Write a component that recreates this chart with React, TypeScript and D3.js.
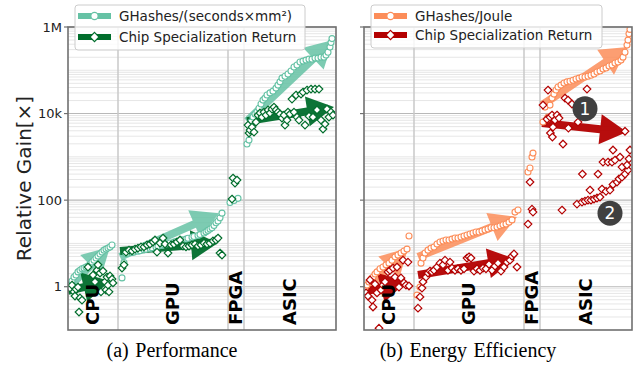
import React from 'react';
import * as d3 from 'd3';

// ---------- data ----------
const categories = ['CPU', 'GPU', 'FPGA', 'ASIC'];
// design-index boundaries between categories (x axis is design index)
const categoryBounds = [0, 25, 80, 88, 134];
const yTickValues = [1, 100, 1e4, 1e6];
const yTickLabels = ['1', '100', '10k', '1M'];

// (a) Performance: GHashes/(seconds x mm^2)
const perfThroughput: [number, number][] = [
  [1, 1.09], [2, 1.36], [3, 1.67], [4, 1.86], [5, 2.2], [6, 2.4], [7, 2.6], [8, 2.7], [9, 2.85], [10, 3.0],
  [11, 3.3], [12, 3.7], [13, 4.1], [14, 4.6], [15, 5.1], [16, 5.7], [17, 6.3], [18, 7.0], [19, 7.4], [20, 7.8],
  [21, 8.3], [22, 9.2],
  [27, 1.6], [28, 3.6], [29, 5.8], [30, 6.0], [32, 6.2], [33, 6.3], [35, 6.6], [36, 6.8], [38, 7.1], [39, 7.3],
  [41, 7.6], [42, 7.9], [44, 8.3], [45, 8.6], [47, 9.0], [48, 9.3], [50, 9.8], [51, 10.2], [53, 10.7], [54, 11.1],
  [56, 11.6], [57, 12.1], [59, 12.6], [60, 13.2], [62, 13.9], [63, 14.5], [65, 15.3], [66, 16], [68, 17.4],
  [69, 18.5], [70, 20], [71, 21.5], [72, 23], [73, 26], [74, 30], [75, 33], [76, 39], [77, 50],
  [81, 88], [83, 98], [85, 110],
  [89.5, 1980], [90.5, 2440], [91.5, 6370], [92.5, 8300], [93.5, 9730], [94.5, 10800], [95.5, 13300],
  [96.5, 16600], [97.5, 20500], [98.5, 22800], [99.5, 26800], [101, 30000], [102.5, 33000], [104, 38800],
  [105, 45500], [106, 54000], [107, 66000], [108.5, 73000], [110, 82000], [111.5, 96000], [113, 119000],
  [114.5, 132000], [116, 155000], [117.5, 163000], [119, 172000], [120.5, 181000], [122, 181000],
  [123.5, 191000], [125, 191000], [126.5, 201000], [128, 201000], [129, 224000], [130, 260000],
  [131, 343000], [131.5, 440000], [132, 540000],
];

// (a) Performance: Chip Specialization Return
const perfCSR: [number, number][] = [
  [1, 0.93], [2, 1.09], [3, 0.76], [3.5, 0.61], [4, 0.88], [5, 0.98], [5.5, 0.26], [6, 0.55], [7, 0.49],
  [10, 2.85], [12.5, 1.86], [13.5, 1.29], [14.5, 2.4], [15, 3.2], [16, 2.07], [16.5, 0.76], [17.5, 2.3],
  [18.5, 1.29], [19, 0.84], [19.5, 1.67], [20, 1.09], [20.5, 0.76], [21, 1.77], [22, 1.5], [22.5, 1.22],
  [27, 2.7], [28, 3.2], [29, 6.3], [30.5, 7.0], [32, 6.7], [33.5, 7.4], [35, 7.8], [36.5, 8.3], [38, 8.3],
  [39.5, 9.2], [41, 9.7], [42.5, 10.8], [43.5, 12], [44.5, 6.3], [46, 10.2], [47.5, 13.3], [48.5, 9.7],
  [50, 6.0], [51.5, 9.2], [53, 9.7], [54.5, 10.8], [56, 12], [57.5, 8.7], [59, 8.3], [60.5, 8.7], [62, 9.2],
  [63.5, 9.7], [65, 8.7], [66.5, 9.2], [68, 10.2], [69.5, 9.7], [71, 10.2], [72.5, 11.4], [74, 12], [75, 13.3],
  [76, 6.0], [77, 5.4],
  [82, 106], [82.5, 324], [83.5, 248], [84.5, 291],
  [90, 5420], [90.5, 3550], [91, 4160], [92, 4880], [93, 3740], [94, 6370], [95, 9230], [96, 10300],
  [97, 8300], [98, 10800], [99, 9230], [100, 12100], [101, 10300], [102, 12700], [103, 14100], [104, 12100],
  [105, 10800], [106, 9730], [107, 7870], [108, 9230], [108.5, 5420], [109.5, 7080], [110, 10800],
  [111, 9730], [112, 21600], [113, 10800], [114, 26800], [114.5, 8300], [115.5, 7080], [116.5, 28200],
  [117.5, 31400], [118.5, 5420], [119.5, 34900], [120.5, 8700], [121.5, 36800], [122.5, 8300],
  [123.5, 36800], [124.5, 12100], [125.5, 36800], [126.5, 7080], [127.5, 4390], [128.5, 5730],
  [129.5, 12700], [130.5, 8300], [131.5, 10800], [132.5, 9230],
];

// (b) Energy efficiency: GHashes/Joule
const energyEff: [number, number][] = [
  [0.5, 0.93], [1.5, 1.09], [2.5, 1.29], [3.5, 1.5], [4.5, 1.67], [5.5, 1.96], [6.5, 2.2], [8, 2.6],
  [9.5, 2.85], [11, 3.2], [12.5, 3.5], [14, 4.1], [15.5, 4.9], [17, 5.4], [18.5, 6.0], [20, 6.7],
  [21.5, 7.4], [22.5, 14.8],
  [26.5, 0.64], [28, 0.98], [28.5, 3.5], [29.5, 4.6], [30.5, 6.0], [32, 7.0], [33.5, 7.8], [35, 8.3],
  [36.5, 9.7], [38, 10.8], [39.5, 11.4], [41, 12], [42.5, 12], [44, 12.6], [45.5, 13.3], [47, 13.3],
  [48.5, 14.1], [50, 14.8], [51.5, 15.6], [53, 16.5], [54.5, 17.4], [56, 18.3], [57.5, 18.3], [59, 19.4],
  [60.5, 20.4], [62, 21.5], [63.5, 23], [65, 23], [66.5, 24], [68, 25.5], [69.5, 27], [71, 28], [72.5, 31],
  [74, 35], [75.5, 53], [77, 59],
  [82, 446], [83, 551], [84, 990], [84.5, 1220],
  [89.5, 6370], [90.5, 14100], [91.5, 7460], [92, 8300], [93, 15700], [94, 22800], [95, 28200], [96, 34900],
  [97, 41000], [98.5, 45500], [100, 51000], [101.5, 54000], [103, 56000], [104.5, 59000], [106, 63000],
  [107.5, 66000], [109, 70000], [110.5, 70000], [112, 73000], [113.5, 77000], [115, 82000], [116.5, 91000],
  [118, 96000], [119.5, 107000], [121, 113000], [122.5, 126000], [124, 132000], [125.5, 147000],
  [127, 155000], [128.5, 172000], [129.5, 201000], [130.5, 260000], [131.5, 382000], [132, 498000],
  [132.5, 700000], [133, 880000],
];

// (b) Energy efficiency: Chip Specialization Return
const energyCSR: [number, number][] = [
  [1, 0.72], [2, 0.61], [3, 1.43], [4, 0.49], [4.5, 0.34], [5.5, 1.15], [6.5, 0.72], [7.5, 0.11],
  [8.5, 0.84], [9.5, 1.09], [10.5, 1.29], [12, 2.2], [13, 2.4], [14.5, 2.7], [15.5, 1.67], [16.5, 2.85],
  [17.5, 0.98], [18.5, 1.59], [19.5, 4.1], [20, 1.22], [21, 1.09], [22, 3.7], [22.5, 1.04],
  [27, 0.32], [28, 0.58], [29, 0.93], [29.5, 1.29], [31, 1.67], [32, 2.07], [33, 2.3], [34, 2.2], [35, 2.4],
  [36.5, 2.85], [38, 3.5], [39.5, 3.2], [40.5, 4.1], [42, 2.4], [43, 3.7], [44, 2.7], [45.5, 2.4], [47, 2.6],
  [48.5, 2.4], [50, 2.6], [51.5, 4.6], [52.5, 4.9], [53.5, 4.6], [55, 2.3], [56.5, 2.6], [58, 2.4],
  [59.5, 2.7], [61, 2.6], [62.5, 3.3], [64, 2.4], [65.5, 3.0], [67, 3.5], [68.5, 2.3], [70, 2.85],
  [71.5, 3.7], [73, 4.1], [74, 5.1], [75, 5.7], [76.5, 2.85],
  [82, 28], [83, 262], [84, 62], [84.5, 53],
  [89.5, 15700], [92, 34900], [91.5, 7460], [93, 8300], [94, 9230], [94.5, 4880], [93.2, 3550], [94.2, 2870],
  [95.5, 7080], [96.5, 9230], [97.5, 7870], [99.5, 1980], [100.5, 22800], [102, 20500], [102.2, 4620],
  [104, 16600], [107, 6370], [111.5, 36800], [130.5, 3900],
  [99, 59], [106.5, 81], [109, 90], [110.5, 95], [112, 100], [113.5, 100], [115, 106], [116.5, 112],
  [118, 118], [119, 180], [113, 171], [121, 160], [123, 171], [124.5, 230], [126.5, 262], [127.5, 310],
  [129, 340], [130.5, 401], [132, 495], [109.2, 401], [117, 401], [119.5, 758], [122, 758], [124, 758],
  [124.5, 1440], [125.5, 843], [128, 990], [129, 581], [131.5, 647], [133, 1440], [132.5, 900],
];

// trend arrows: [fromIndex, fromValue, toIndex, toValue]
const perfThroughputArrows: [number, number, number, number][] = [
  [0.5, 1.0, 21, 8.3], [26, 4.9, 75.5, 50], [89.5, 6700, 132.5, 500000],
];
const perfCSRArrows: [number, number, number, number][] = [
  [0, 0.8, 21, 1.36], [26, 6.7, 75, 10.2], [89.5, 6700, 133, 14100],
];
const energyEffArrows: [number, number, number, number][] = [
  [0.5, 0.8, 22, 7.8], [27, 4.9, 76.5, 41], [89, 15700, 132, 343000],
];
const energyCSRArrows: [number, number, number, number][] = [
  [0, 0.76, 21.5, 1.36], [27, 1.86, 75.5, 4.4], [89, 6040, 131.5, 3740],
];

// numbered callouts in panel (b): [index, value, label]
const energyCallouts: [number, number, string][] = [
  [110.5, 13000, '1'], [123, 50, '2'],
];

// ---------- layout / style ----------
const W = 633;
const H = 369;
const Y_TOP = 27;
const Y_BOTTOM = 330;
const FONT = 'DejaVu Sans';

type Series = {
  label: string;
  color: string;
  arrowOpacity: number;
  marker: 'circle' | 'diamond';
  points: [number, number][];
  arrows: [number, number, number, number][];
};

const panels = [
  {
    id: 'a',
    x0: 68,
    x1: 336,
    caption: '(a) Performance',
    captionX: 172,
    showLabels: true,
    legend: { x: 75, w: 230, h: 45 },
    series: [
      { label: 'GHashes/(seconds×mm²)', color: '#66c2a5', arrowOpacity: 0.85, marker: 'circle', points: perfThroughput, arrows: perfThroughputArrows },
      { label: 'Chip Specialization Return', color: '#006d2c', arrowOpacity: 0.95, marker: 'diamond', points: perfCSR, arrows: perfCSRArrows },
    ] as Series[],
    callouts: [] as [number, number, string][],
  },
  {
    id: 'b',
    x0: 364,
    x1: 632,
    caption: '(b) Energy Efficiency',
    captionX: 468,
    showLabels: false,
    legend: { x: 371, w: 231, h: 43 },
    series: [
      { label: 'GHashes/Joule', color: '#fc8d59', arrowOpacity: 0.85, marker: 'circle', points: energyEff, arrows: energyEffArrows },
      { label: 'Chip Specialization Return', color: '#b30000', arrowOpacity: 0.95, marker: 'diamond', points: energyCSR, arrows: energyCSRArrows },
    ] as Series[],
    callouts: energyCallouts,
  },
];

function arrowPath(x0: number, y0: number, x1: number, y1: number) {
  const shaftW = 8, headW = 30, headL = 27;
  const dx = x1 - x0, dy = y1 - y0;
  const len = Math.hypot(dx, dy);
  const ux = dx / len, uy = dy / len;
  const px = -uy, py = ux;
  const bx = x1 - ux * headL, by = y1 - uy * headL;
  const s = shaftW / 2, h = headW / 2;
  const pts: [number, number][] = [
    [x0 + px * s, y0 + py * s], [bx + px * s, by + py * s], [bx + px * h, by + py * h], [x1, y1],
    [bx - px * h, by - py * h], [bx - px * s, by - py * s], [x0 - px * s, y0 - py * s],
  ];
  return (d3.line()(pts) || '') + 'Z';
}

function Marker({ kind, x, y, color, big }: { kind: string; x: number; y: number; color: string; big?: boolean }) {
  const k = big ? 1.2 : 1;
  if (kind === 'circle') {
    return <circle cx={x} cy={y} r={3 * k} fill="#fff" stroke={color} strokeWidth={1.1} />;
  }
  const r = 3.8 * k;
  return (
    <path d={`M${x},${y - r}L${x + r},${y}L${x},${y + r}L${x - r},${y}Z`} fill="#fff" stroke={color} strokeWidth={1.2} />
  );
}

const yScale = d3.scaleLog().domain([0.1, 1e6]).range([Y_BOTTOM, Y_TOP]);

const minorValues: number[] = [];
for (let k = -1; k <= 5; k++) {
  for (let m = 1; m <= 9; m++) {
    const v = m * Math.pow(10, k);
    if (v <= 0.1 || v >= 1e6) continue;
    if (yTickValues.some((t) => Math.abs(t - v) / t < 1e-9)) continue;
    minorValues.push(v);
  }
}

function Panel({ p }: { p: (typeof panels)[number] }) {
  const x = d3.scaleLinear().domain([0, 134]).range([p.x0, p.x1]);
  const clipId = `clip-${p.id}`;
  return (
    <g>
      <defs>
        <clipPath id={clipId}>
          <rect x={p.x0} y={Y_TOP} width={p.x1 - p.x0} height={Y_BOTTOM - Y_TOP} />
        </clipPath>
      </defs>
      {/* minor grid */}
      {minorValues.map((v, i) => (
        <line key={`mn${i}`} x1={p.x0} x2={p.x1} y1={yScale(v)} y2={yScale(v)} stroke="#e3e3e3" strokeWidth={0.9} />
      ))}
      {/* major grid */}
      {yTickValues.map((v, i) => (
        <line key={`mj${i}`} x1={p.x0} x2={p.x1} y1={yScale(v)} y2={yScale(v)} stroke="#b8b8b8" strokeWidth={1.1} />
      ))}
      {/* category separators */}
      {categoryBounds.slice(1, -1).map((b, i) => (
        <line key={`cb${i}`} x1={x(b)} x2={x(b)} y1={Y_TOP} y2={Y_BOTTOM} stroke="#c8c8c8" strokeWidth={1.5} />
      ))}
      <g clipPath={`url(#${clipId})`}>
        {p.series.map((s, si) =>
          s.arrows.map((a, ai) => (
            <path key={`ar${si}-${ai}`} d={arrowPath(x(a[0]), yScale(a[1]), x(a[2]), yScale(a[3]))} fill={s.color} opacity={s.arrowOpacity} />
          ))
        )}
        {p.series.map((s, si) =>
          s.points.map((pt, pi) => (
            <Marker key={`m${si}-${pi}`} kind={s.marker} x={x(pt[0])} y={yScale(pt[1])} color={s.color} />
          ))
        )}
      </g>
      {/* category labels */}
      {categories.map((c, i) => {
        const cx = (x(categoryBounds[i]) + x(categoryBounds[i + 1])) / 2;
        return (
          <text key={c} transform={`translate(${cx},${Y_BOTTOM - 5}) rotate(-90)`} dy="0.36em" fontFamily={FONT} fontWeight="bold" fontSize={18} fill="#000">
            {c}
          </text>
        );
      })}
      {/* callouts */}
      {p.callouts.map((c, i) => (
        <g key={`co${i}`}>
          <circle cx={x(c[0])} cy={yScale(c[1])} r={12.5} fill="#404040" />
          <text x={x(c[0])} y={yScale(c[1])} dy="0.36em" textAnchor="middle" fontFamily={FONT} fontSize={17} fill="#fff">
            {c[2]}
          </text>
        </g>
      ))}
      {/* frame */}
      <rect x={p.x0} y={Y_TOP} width={p.x1 - p.x0} height={Y_BOTTOM - Y_TOP} fill="none" stroke="#707070" strokeWidth={1.6} />
      {/* y ticks */}
      {yTickValues.map((v, i) => (
        <g key={`yt${i}`}>
          <line x1={p.x0 - 4} x2={p.x0} y1={yScale(v)} y2={yScale(v)} stroke="#707070" strokeWidth={1.2} />
          {p.showLabels && (
            <text x={p.x0 - 6} y={yScale(v)} dy="0.36em" textAnchor="end" fontFamily={FONT} fontSize={13} fill="#222">
              {yTickLabels[i]}
            </text>
          )}
        </g>
      ))}
      {/* legend */}
      <g>
        <rect x={p.legend.x} y={5} width={p.legend.w} height={p.legend.h} rx={3} fill="#fff" fillOpacity={0.82} stroke="#cccccc" strokeWidth={1} />
        {p.series.map((s, si) => {
          const ly = 16 + si * (p.legend.h - 24);
          const lx = p.legend.x + 3;
          return (
            <g key={`lg${si}`}>
              <line x1={lx} x2={lx + 33} y1={ly} y2={ly} stroke={s.color} strokeWidth={6} />
              <Marker kind={s.marker} x={lx + 16.5} y={ly} color={s.color} big />
              <text x={p.legend.x + 44} y={ly} dy="0.36em" fontFamily={FONT} fontSize={13.5} fill="#222">
                {s.label}
              </text>
            </g>
          );
        })}
      </g>
      {/* caption */}
      <text x={p.captionX} y={357} textAnchor="middle" fontFamily="Liberation Serif" fontSize={20} wordSpacing={1.5} fill="#000">
        {p.caption}
      </text>
    </g>
  );
}

export default function App() {
  return (
    <svg width={W} height={H} style={{ position: 'absolute', left: 0, top: 0, background: '#fff' }}>
      <rect x={0} y={0} width={W} height={H} fill="#fff" />
      <text transform={`translate(31,${(Y_TOP + Y_BOTTOM) / 2}) rotate(-90)`} textAnchor="middle" fontFamily={FONT} fontSize={20} fill="#222">
        Relative Gain[×]
      </text>
      {panels.map((p) => (
        <Panel key={p.id} p={p} />
      ))}
    </svg>
  );
}
